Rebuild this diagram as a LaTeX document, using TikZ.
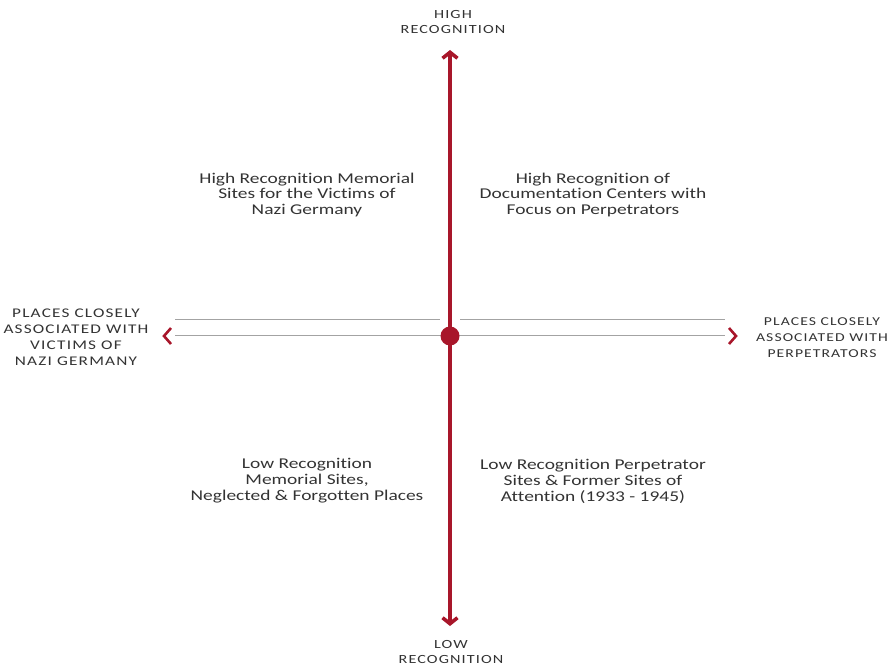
\documentclass[tikz,border=0pt]{standalone}
\usepackage{fontspec}
\setmainfont{Carlito}
\newfontfamily\quadfont[FakeStretch=1.3,Ligatures=NoCommon]{Carlito}
\newfontfamily\polefont[FakeStretch=1.3,LetterSpace=9,Ligatures=NoCommon]{Carlito}
\usetikzlibrary{arrows.meta}
\definecolor{axisred}{HTML}{A8162A}
\definecolor{guidegray}{HTML}{A3A3A3}
\definecolor{labelgray}{HTML}{333333}
\tikzset{
  quad/.style={align=center,text=labelgray,font=\quadfont\fontsize{15}{16}\selectfont},
  pole/.style={align=center,text=labelgray,font=\polefont\fontsize{#1}{16}\selectfont},
  pole/.default=12.5,
  guide/.style={guidegray,line width=1pt},
  chevron/.style={axisred,line width=2.6pt,line cap=butt,line join=miter}
}
\begin{document}
\begin{tikzpicture}[x=1bp,y=-1bp]
\useasboundingbox (0,0) rectangle (894,667);

% axis ends
\coordinate (top) at (450,50);
\coordinate (bot) at (450,626);
\coordinate (Origin) at (450,336);
\coordinate (leftend) at (175,335);
\coordinate (rightend) at (725,335);
\coordinate (leftup) at (175,319);
\coordinate (leftupend) at (440,319);
\coordinate (rightup) at (460,319);
\coordinate (rightupend) at (725,319);

% grey guide lines
\draw[guide] (leftup) -- (leftupend);
\draw[guide] (rightup) -- (rightupend);
\draw[guide] (leftend) -- (rightend);

% vertical axis
\draw[axisred,line width=3.6pt,{Straight Barb[length=6pt,width=15pt]}-{Straight Barb[length=6pt,width=15pt]}] (top) -- (bot);
\fill[axisred] (Origin) circle (9.5);

% side chevrons
\draw[chevron] (171,328) -- (164,336) -- (171,344);
\draw[chevron] (729,328) -- (736,336) -- (729,344);

% pole labels
\node[pole] (high) at (453,22) {HIGH\\RECOGNITION};
\node[pole] (low) at (451,652) {LOW\\RECOGNITION};
\node[pole=13.3] (victims) at (76,337) {PLACES CLOSELY\\ASSOCIATED WITH\\VICTIMS OF\\NAZI GERMANY};
\node[pole=12.1] (perps) at (822,338) {PLACES CLOSELY\\ASSOCIATED WITH\\PERPETRATORS};

% quadrants
\node[quad] (ul) at (307,195) {High Recognition Memorial\\Sites for the Victims of\\Nazi Germany};
\node[quad] (ur) at (593,195) {High Recognition of\\Documentation Centers with\\Focus on Perpetrators};
\node[quad] (ll) at (307,481) {Low Recognition\\Memorial Sites,\\Neglected \& Forgotten Places};
\node[quad] (lr) at (593,481) {Low Recognition Perpetrator\\Sites \& Former Sites of\\Attention (1933 - 1945)};

\end{tikzpicture}
\end{document}
